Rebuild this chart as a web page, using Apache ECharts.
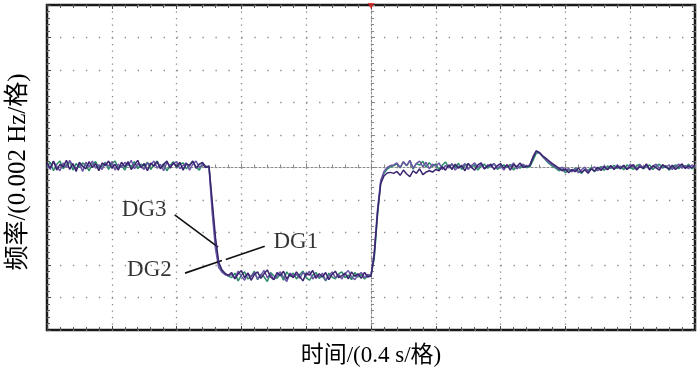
<!DOCTYPE html>
<html>
<head>
<meta charset="utf-8">
<script src="https://cdn.jsdelivr.net/npm/echarts@6/dist/echarts.min.js"></script>
<style>html,body{margin:0;padding:0;background:#fff;}#c{width:700px;height:375px;}</style>
</head>
<body>
<div id="c"></div>
<script>
// time in divisions (0.4 s / division), centre of screen = 0
const time = [
-5,-4.95,-4.9,-4.85,-4.8,-4.75,-4.7,-4.65,-4.6,-4.55,
-4.5,-4.45,-4.4,-4.35,-4.3,-4.25,-4.2,-4.15,-4.1,-4.05,
-4,-3.95,-3.9,-3.85,-3.8,-3.75,-3.7,-3.65,-3.6,-3.55,
-3.5,-3.45,-3.4,-3.35,-3.3,-3.25,-3.2,-3.15,-3.1,-3.05,
-3,-2.95,-2.9,-2.85,-2.8,-2.75,-2.7,-2.65,-2.6,-2.55,
-2.5,-2.45,-2.4,-2.35,-2.3,-2.25,-2.2,-2.15,-2.1,-2.05,
-2,-1.95,-1.9,-1.85,-1.8,-1.75,-1.7,-1.65,-1.6,-1.55,
-1.5,-1.45,-1.4,-1.35,-1.3,-1.25,-1.2,-1.15,-1.1,-1.05,
-1,-0.95,-0.9,-0.85,-0.8,-0.75,-0.7,-0.65,-0.6,-0.55,
-0.5,-0.45,-0.4,-0.35,-0.3,-0.25,-0.2,-0.15,-0.1,-0.05,
0,0.05,0.1,0.15,0.2,0.25,0.3,0.35,0.4,0.45,
0.5,0.55,0.6,0.65,0.7,0.75,0.8,0.85,0.9,0.95,
1,1.05,1.1,1.15,1.2,1.25,1.3,1.35,1.4,1.45,
1.5,1.55,1.6,1.65,1.7,1.75,1.8,1.85,1.9,1.95,
2,2.05,2.1,2.15,2.2,2.25,2.3,2.35,2.4,2.45,
2.5,2.55,2.6,2.65,2.7,2.75,2.8,2.85,2.9,2.95,
3,3.05,3.1,3.15,3.2,3.25,3.3,3.35,3.4,3.45,
3.5,3.55,3.6,3.65,3.7,3.75,3.8,3.85,3.9,3.95,
4,4.05,4.1,4.15,4.2,4.25,4.3,4.35,4.4,4.45,
4.5,4.55,4.6,4.65,4.7,4.75,4.8,4.85,4.9,4.95,
5
];
// frequency deviation in divisions (0.002 Hz / division)
const dg1 = [
0.14,-0.02,0.20,-0.08,0.10,0.02,0.22,-0.06,0.12,-0.12,
0.16,0.04,-0.04,0.18,0.00,0.12,-0.10,0.14,0.06,0.20,
-0.02,0.10,-0.08,0.16,0.02,0.18,-0.06,0.08,0.22,0.00,
0.12,-0.10,0.14,0.04,0.18,-0.04,0.10,0.20,-0.02,0.14,
0.02,0.16,-0.08,0.12,0.06,0.20,-0.02,0.10,0.16,0.00,
0.05,
-1.05,-2.15,-2.92,-3.15,-3.26,-3.32,
-3.23,-3.43,-3.27,-3.17,-3.39,-3.25,-3.47,-3.29,-3.21,-3.41,
-3.27,-3.15,-3.37,-3.45,-3.23,-3.33,-3.19,-3.43,-3.29,-3.39,
-3.21,-3.35,-3.49,-3.25,-3.31,-3.17,-3.41,-3.27,-3.37,-3.23,
-3.45,-3.29,-3.19,-3.39,-3.33,-3.25,-3.43,-3.21,-3.35,-3.27,
-3.41,-3.23,-3.37,
-3.34,
-2.70,-1.40,-0.50,-0.26,-0.17,-0.15,-0.18,
-0.12,-0.24,-0.08,-0.20,-0.28,-0.10,-0.18,-0.04,-0.22,-0.14,
-0.10,-0.14,-0.06,-0.10,0.02,-0.08,0.08,-0.06,0.10,-0.02,
0.06,-0.10,0.12,0.00,-0.08,0.08,0.14,-0.04,0.04,0.10,
-0.06,0.06,0.12,-0.02,0.08,-0.08,0.10,0.02,0.14,0.00,
0.04,
0.05,0.30,0.50,0.46,0.36,0.28,0.20,0.12,
0.05,-0.02,-0.10,-0.04,-0.16,-0.06,-0.13,-0.01,-0.15,-0.07,
-0.18,-0.04,-0.11,0.01,-0.09,0.02,-0.07,0.06,-0.06,0.04,
-0.04,0.07,-0.06,0.01,0.09,-0.08,0.03,-0.03,0.11,-0.06,
0.05,-0.01,-0.08,0.09,0.01,-0.05,0.07,-0.06,0.03,0.11,
-0.03,0.05,-0.01,0.07
];
const dg2 = [
0.02,0.16,-0.10,0.10,0.20,-0.04,0.08,0.18,-0.08,0.12,
0.00,0.14,0.06,-0.10,0.10,0.18,-0.02,0.04,0.16,-0.06,
0.12,0.20,0.00,0.06,-0.08,0.14,0.02,0.18,-0.04,0.10,
0.04,0.16,-0.06,0.08,0.20,-0.02,0.12,-0.10,0.06,0.18,
0.00,0.10,0.14,-0.04,0.08,0.18,0.02,-0.08,0.12,0.04,
0.03,
-1.20,-2.30,-3.00,-3.20,-3.28,-3.34,
-3.39,-3.25,-3.49,-3.31,-3.21,-3.43,-3.35,-3.19,-3.45,-3.29,
-3.37,-3.51,-3.23,-3.33,-3.41,-3.27,-3.47,-3.21,-3.35,-3.25,
-3.43,-3.29,-3.19,-3.39,-3.47,-3.31,-3.23,-3.41,-3.33,-3.49,
-3.25,-3.37,-3.43,-3.27,-3.21,-3.39,-3.31,-3.45,-3.23,-3.37,
-3.29,-3.43,-3.33,
-3.33,
-2.80,-1.50,-0.45,-0.18,-0.05,0.02,0.05,
0.11,-0.01,0.17,0.05,0.21,-0.05,0.13,0.07,0.19,0.01,
0.15,0.03,0.11,-0.07,0.07,0.17,-0.01,0.09,0.01,0.13,
-0.06,0.06,0.12,0.00,0.08,-0.08,0.04,0.10,-0.02,0.06,
0.12,-0.06,0.02,0.08,0.00,0.10,-0.08,0.04,-0.02,0.06,
0.00,
0.02,0.22,0.44,0.45,0.33,0.22,0.12,0.04,
-0.02,-0.10,-0.05,-0.16,-0.07,-0.13,-0.02,-0.11,-0.18,-0.05,
-0.09,0.00,-0.13,-0.04,0.03,-0.09,0.05,-0.03,0.07,-0.03,
0.04,-0.07,0.08,0.00,-0.06,0.06,0.09,-0.04,0.02,0.08,
-0.06,0.04,0.10,-0.02,0.06,-0.08,0.02,0.08,-0.04,0.06,
0.00,0.10,-0.04,0.04
];
const dg3 = [
0.10,-0.06,0.18,0.04,-0.10,0.14,0.00,0.22,0.06,-0.04,
0.12,-0.12,0.16,0.02,0.20,-0.02,0.08,-0.06,0.14,0.04,
0.18,-0.08,0.10,0.00,0.16,0.06,0.22,-0.04,0.12,0.02,
-0.06,0.14,0.08,0.20,-0.02,0.10,-0.10,0.16,0.04,0.12,
0.18,-0.04,0.06,0.14,-0.08,0.10,0.20,0.00,0.08,0.02,
0.00,
-1.40,-2.50,-3.08,-3.22,-3.30,-3.33,
-3.29,-3.41,-3.19,-3.35,-3.47,-3.25,-3.37,-3.23,-3.43,-3.31,
-3.17,-3.39,-3.27,-3.45,-3.33,-3.21,-3.37,-3.51,-3.25,-3.35,
-3.29,-3.41,-3.23,-3.33,-3.19,-3.43,-3.31,-3.37,-3.25,-3.47,
-3.35,-3.21,-3.39,-3.29,-3.43,-3.27,-3.17,-3.37,-3.45,-3.31,
-3.23,-3.39,-3.29,
-3.32,
-2.60,-1.30,-0.40,-0.12,0.00,0.06,0.08,
0.14,0.00,0.18,0.06,0.22,-0.02,0.12,0.20,0.02,0.16,
-0.04,0.10,0.04,0.14,-0.06,0.06,0.00,0.12,-0.08,0.04,
0.02,0.12,-0.06,0.06,0.14,0.00,0.10,-0.04,0.08,0.02,
0.12,-0.02,0.06,-0.08,0.08,0.02,0.14,-0.04,0.04,0.10,
0.02,
0.08,0.34,0.52,0.44,0.34,0.24,0.15,0.08,
0.02,-0.06,0.01,-0.10,-0.03,-0.13,-0.05,-0.16,-0.07,0.01,
-0.13,-0.05,0.02,-0.10,-0.02,0.05,-0.06,0.03,-0.03,0.08,
0.00,0.06,-0.06,0.10,0.02,-0.04,0.08,0.00,0.06,-0.08,
0.04,0.10,-0.02,0.06,0.00,0.08,-0.06,0.04,0.10,-0.02,
0.06,-0.04,0.08,0.02
];
const seriesNames = ['DG1','DG2','DG3'];
const xTitle = '时间/(0.4 s/格)';
const yTitle = '频率/(0.002 Hz/格)';

const FONT = '"Liberation Serif","Times New Roman","Noto Sans CJK SC",serif';
const pair = arr => time.map((t, i) => [t, arr[i]]);

const chart = echarts.init(document.getElementById('c'), null, {renderer: 'canvas'});

const borderAxis = (pos) => ({
  type: 'value', min: -5, max: 5, interval: 1, position: pos,
  axisLine: {show: false, onZero: false},
  axisTick: {show: true, inside: true, length: 4, lineStyle: {color: '#444', width: 1}},
  minorTick: {show: true, splitNumber: 5, length: 3, lineStyle: {color: '#555', width: 1}},
  axisLabel: {show: false}, splitLine: {show: false}
});

const option = {
  animation: false,
  backgroundColor: '#fff',
  grid: {left: 47, right: 5, top: 5, bottom: 45, show: true, borderColor: '#1a1a1a', borderWidth: 2.5},
  xAxis: [
    {
      type: 'value', min: -5, max: 5, interval: 1, position: 'bottom',
      axisLine: {show: true, onZero: true, lineStyle: {color: '#888', width: 1, type: [2, 2]}},
      axisTick: {show: true, inside: true, length: 4, lineStyle: {color: '#888'}},
      minorTick: {show: true, splitNumber: 5, length: 3, lineStyle: {color: '#888'}},
      axisLabel: {show: false},
      splitLine: {show: true, lineStyle: {color: '#888', width: 1.3, type: [1.3, 5.2]}}
    },
    borderAxis('top'),
    borderAxis('bottom')
  ],
  yAxis: [
    {
      type: 'value', min: -5, max: 5, interval: 1, position: 'left',
      axisLine: {show: true, onZero: true, lineStyle: {color: '#888', width: 1, type: [2, 2]}},
      axisTick: {show: true, inside: true, length: 4, lineStyle: {color: '#888'}},
      minorTick: {show: true, splitNumber: 5, length: 3, lineStyle: {color: '#888'}},
      axisLabel: {show: false},
      splitLine: {show: true, lineStyle: {color: '#888', width: 1.3, type: [1.3, 11.66]}}
    },
    borderAxis('left'),
    borderAxis('right')
  ],
  series: [
    {name: seriesNames[1], type: 'line', data: pair(dg2), showSymbol: false, symbol: 'none',
     lineStyle: {color: '#2a8a68', width: 1.5}, z: 3},
    {name: seriesNames[2], type: 'line', data: pair(dg3), showSymbol: false, symbol: 'none',
     lineStyle: {color: '#6a55a6', width: 1.5}, z: 4},
    {name: seriesNames[0], type: 'line', data: pair(dg1), showSymbol: false, symbol: 'none',
     lineStyle: {color: '#3a2470', width: 1.5}, z: 5,
     markLine: {
       silent: true, symbol: 'none', animation: false,
       lineStyle: {color: '#111', width: 1.6, type: 'solid'},
       label: {show: false},
       data: [
         [{coord: [-3.03, -1.46]}, {coord: [-2.36, -2.45]}],
         [{coord: [-2.87, -3.25]}, {coord: [-2.30, -2.86]}],
         [{coord: [-2.24, -2.83]}, {coord: [-1.64, -2.42]}]
       ]
     }},
    {type: 'scatter', silent: true, symbolSize: 0, z: 6,
     label: {show: true, position: 'inside', formatter: p => p.data[2], color: '#000',
             textBorderWidth: 0, fontFamily: FONT, fontSize: 23},
     data: [[-3.50, -1.31, seriesNames[2]], [-3.42, -3.15, seriesNames[1]], [-1.16, -2.29, seriesNames[0]]]},
    {type: 'scatter', silent: true, clip: false, symbol: 'triangle', symbolRotate: 180,
     symbolSize: [7, 6], symbolOffset: [0, 1], itemStyle: {color: '#e02020'}, z: 10,
     data: [[0, 5]]}
  ],
  graphic: [
    {type: 'text', x: 371, y: 356, style: {text: xTitle, font: '23px ' + FONT, fill: '#000',
      align: 'center', verticalAlign: 'middle'}},
    {type: 'text', x: 18, y: 172, rotation: Math.PI / 2, style: {text: yTitle, font: '25px ' + FONT,
      fill: '#000', align: 'center', verticalAlign: 'middle'}}
  ]
};
chart.setOption(option);
</script>
</body>
</html>
